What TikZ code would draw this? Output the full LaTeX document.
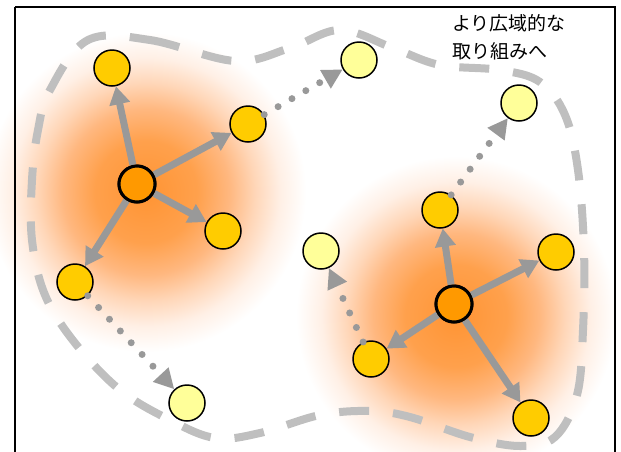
\documentclass[tikz,border=0pt]{standalone}
\usepackage{fontspec}
\newfontfamily\jpfont{Noto Sans CJK JP}
\usetikzlibrary{arrows.meta}

\definecolor{hubfill}{RGB}{255,153,0}
\definecolor{memberfill}{RGB}{255,204,0}
\definecolor{outerfill}{RGB}{255,255,153}
\definecolor{linkgray}{RGB}{153,153,153}
\definecolor{regiongray}{RGB}{191,191,191}

% soft orange halo around each hub (25bp = rim of the filled circle)
\pgfdeclareradialshading{hubglow}{\pgfpoint{0bp}{0bp}}{%
  rgb(0bp)=(1,0.58,0.2); rgb(8bp)=(1,0.63,0.3); rgb(13bp)=(1,0.72,0.5);
  rgb(17bp)=(1,0.84,0.72); rgb(21bp)=(1,0.94,0.9); rgb(25bp)=(1,1,1);
  rgb(50bp)=(1,1,1)}

\begin{document}
\begin{tikzpicture}[x=1pt,y=-1pt,
  hub/.style={circle, draw=black, line width=3pt, fill=hubfill,
    minimum size=36pt, inner sep=0pt},
  member/.style={circle, draw=black, line width=1.5pt, fill=memberfill,
    minimum size=36pt, inner sep=0pt},
  outer/.style={member, fill=outerfill},
  link/.style={draw=linkgray, line width=7pt,
    -{Triangle[length=18pt,width=20pt]}},
  reach/.style={draw=linkgray, line width=7pt, line cap=round,
    dash pattern=on 0pt off 16pt, -{Triangle[length=20pt,width=20pt]}},
  region/.style={draw=regiongray, line width=8pt,
    dash pattern=on 30pt off 24pt},
  caption/.style={anchor=north west, align=left, inner sep=0pt,
    font=\jpfont\fontsize{19}{28}\selectfont}]

\clip (0,0) rectangle (621,451);

% halos
\shade[shading=hubglow] (146,192) circle (160);
\shade[shading=hubglow] (456,316) circle (160);

% wider region outline
\draw[region] plot[smooth cycle, tension=0.6] coordinates {
  (88,40) (150,40) (235,61) (290,48) (340,30) (393,48) (440,65) (500,70)
  (540,82) (565,115) (578,170) (584,250) (583,330) (577,395) (555,437)
  (520,446) (470,437) (410,417) (370,411) (320,415) (260,433) (215,438)
  (170,420) (120,390) (75,343) (45,295) (32,240) (32,180) (38,130) (50,90)};

% hubs and members
\node[hub] (h1) at (137,184) {};
\node[hub] (h2) at (454,304) {};
\node[member] (m1) at (112,68) {};
\node[member] (m2) at (248,124) {};
\node[member] (m3) at (223,231) {};
\node[member] (m4) at (75,282) {};
\node[member] (m5) at (440,210) {};
\node[member] (m6) at (556,252) {};
\node[member] (m7) at (371,359) {};
\node[member] (m8) at (531,418) {};
\node[outer] (o1) at (359,60) {};
\node[outer] (o2) at (187,403) {};
\node[outer] (o3) at (519,103) {};
\node[outer] (o4) at (321,251) {};

% links from hubs
\foreach \t in {m1,m2,m3,m4} \draw[link] (h1) -- (\t);
\foreach \t in {m5,m6,m7,m8} \draw[link] (h2) -- (\t);

% reaching outward
\draw[reach] (m2) -- (o1);
\draw[reach] (m4) -- (o2);
\draw[reach] (m5) -- (o3);
\draw[reach] (m7) -- (o4);

% hubs again, on top of the link roots
\node[hub] at (h1) {};
\node[hub] at (h2) {};

\node[caption] (cap) at (452,14) {より広域的な\\取り組みへ};

% frame
\draw[line width=2pt] (15,7) -- (615,7) -- (615,470) (15,7) -- (15,470);
\end{tikzpicture}
\end{document}
